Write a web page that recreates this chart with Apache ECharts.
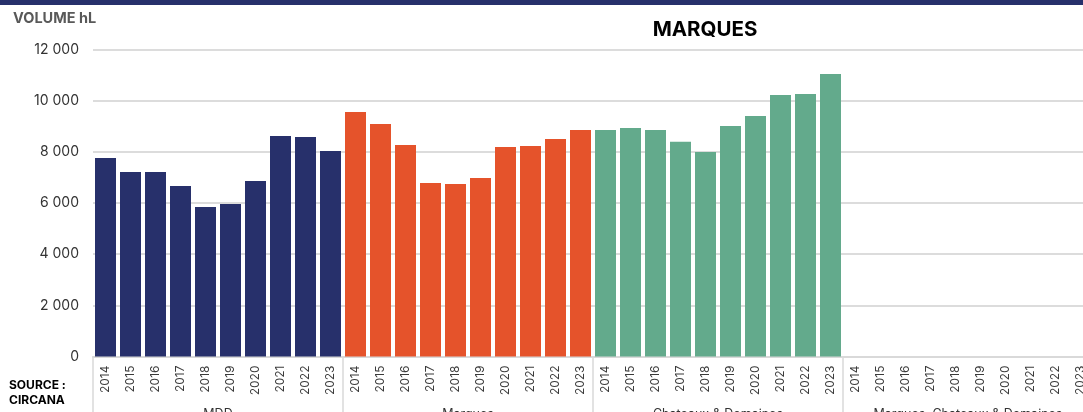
<!DOCTYPE html>
<html>
<head>
<meta charset="utf-8">
<script src="https://cdn.jsdelivr.net/npm/echarts@6/dist/echarts.min.js"></script>
<style>
  html, body { margin: 0; padding: 0; background: #fff; }
  #chart { width: 1083px; height: 412px; }
</style>
</head>
<body>
<div id="chart"></div>
<script>
// Volume hL par type de marque, 2014-2023
const years = ['2014', '2015', '2016', '2017', '2018', '2019', '2020', '2021', '2022', '2023'];
const groups = ['MDD', 'Marques', 'Chateaux & Domaines', 'Marques, Chateaux & Domaines'];
const mdd = [7760, 7210, 7210, 6660, 5840, 5960, 6860, 8620, 8580, 8030];
const marques = [9560, 9090, 8270, 6780, 6740, 6980, 8190, 8230, 8500, 8850];
const chateaux = [8850, 8930, 8850, 8390, 7990, 9010, 9400, 10220, 10260, 11040];
const yTicks = { min: 0, max: 12000, interval: 2000 };

const colors = ['#27306b', '#e5532b', '#63aa8c'];
const FONT = 'Inter, "Noto Sans", sans-serif';

const myChart = echarts.init(document.getElementById('chart'));

// une catégorie par année et par groupe
const cats = [];
groups.forEach(() => years.forEach(y => cats.push(y)));

const data = [];
[mdd, marques, chateaux].forEach((arr, gi) => {
  arr.forEach(v => data.push({ value: v, itemStyle: { color: colors[gi] } }));
});

const fmt = v => String(v).replace(/\B(?=(\d{3})+(?!\d))/g, ' ');

const option = {
  animation: false,
  grid: {
    left: 93,
    right: -10,
    top: 49.5,
    bottom: 55.5,
    containLabel: false,
    outerBoundsMode: 'none'
  },
  graphic: [
    { type: 'rect', shape: { x: 0, y: 0, width: 1083, height: 5 }, style: { fill: '#27306b' } },
    {
      type: 'text', left: 13, top: 11,
      style: { text: 'VOLUME hL', font: 'bold 14.5px ' + FONT, fill: '#595959' }
    },
    {
      type: 'text', x: 705, y: 30,
      style: { text: 'MARQUES', font: 'bold 20.5px ' + FONT, fill: '#000', align: 'center', verticalAlign: 'middle' }
    },
    {
      type: 'text', left: 9, top: 378,
      style: { text: 'SOURCE :\nCIRCANA', font: 'bold 12px ' + FONT, fill: '#000', lineHeight: 15 }
    }
  ],
  xAxis: [
    {
      type: 'category',
      data: cats,
      position: 'bottom',
      axisLine: { lineStyle: { color: '#d9d9d9', width: 2 } },
      axisTick: { show: false },
      axisLabel: {
        interval: 0,
        rotate: 90,
        margin: 9,
        fontSize: 12,
        color: '#3a3a3a',
        fontFamily: FONT
      }
    },
    {
      type: 'category',
      data: groups,
      position: 'bottom',
      offset: 0,
      axisLine: { show: false },
      axisTick: { show: true, length: 60, lineStyle: { color: '#d9d9d9', width: 1.5 } },
      axisLabel: {
        interval: 0,
        margin: 51,
        fontSize: 12.5,
        color: '#333',
        fontFamily: FONT,
        verticalAlign: 'top'
      }
    }
  ],
  yAxis: {
    type: 'value',
    min: yTicks.min,
    max: yTicks.max,
    interval: yTicks.interval,
    axisLine: { show: false },
    axisTick: { show: false },
    splitLine: { lineStyle: { color: '#dcdcdc', width: 2 } },
    axisLabel: {
      margin: 14,
      fontSize: 14,
      color: '#333',
      fontFamily: FONT,
      formatter: fmt
    }
  },
  series: [
    {
      type: 'bar',
      xAxisIndex: 0,
      barWidth: 21,
      data: data
    }
  ]
};

myChart.setOption(option);
</script>
</body>
</html>
